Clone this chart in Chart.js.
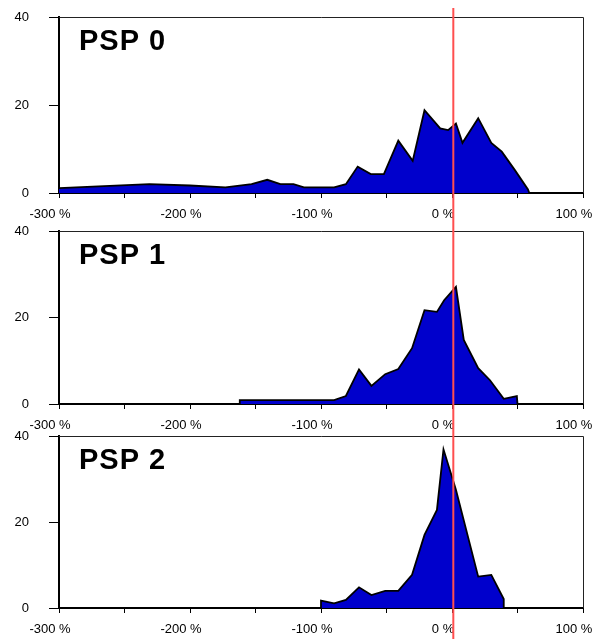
<!DOCTYPE html>
<html>
<head>
<meta charset="utf-8">
<script src="https://cdn.jsdelivr.net/npm/chart.js@4.4.0/dist/chart.umd.min.js"></script>
<style>
  html, body { margin: 0; padding: 0; background: #fff; }
  #wrap { position: relative; width: 599px; height: 639px; overflow: hidden; }
  #wrap canvas { position: absolute; left: 0; top: 0; }
</style>
</head>
<body>
<div id="wrap">
  <canvas id="psp0" width="599" height="639"></canvas>
  <canvas id="psp1" width="599" height="639"></canvas>
  <canvas id="psp2" width="599" height="639"></canvas>
</div>
<script>
// --- données (écart en %, effectif) ---
const psp0X = [-300, -270, -231, -200, -173, -153, -141, -131, -121, -113, -90, -81, -72, -62, -52, -41, -30, -21, -9, -3, 3, 8, 20, 30, 38, 48, 58, 59];
const psp0Y = [1.1, 1.5, 2.0, 1.7, 1.3, 2.0, 3.0, 2.0, 2.0, 1.3, 1.3, 2.0, 6.0, 4.3, 4.3, 11.9, 7.3, 18.8, 14.7, 14.3, 15.8, 11.4, 17.0, 11.4, 9.4, 5.2, 0.8, 0];

const psp1X = [-162, -162, -90, -81, -71, -61.5, -51, -41, -30.5, -21, -11.5, -6, 3, 9, 20, 29, 39.5, 49.5, 50];
const psp1Y = [0, 0.9, 0.9, 1.85, 8.0, 4.2, 6.9, 8.1, 12.9, 21.7, 21.3, 24.0, 27.1, 14.8, 8.3, 5.5, 1.2, 1.85, 0];

const psp2X = [-100, -100, -90, -81, -71, -61.5, -51, -41, -30.5, -21, -11.5, -6.5, 3, 20, 30, 39.5, 39.5];
const psp2Y = [0, 1.7, 1.1, 1.9, 4.8, 3.0, 4.0, 4.0, 7.7, 17.0, 22.8, 36.9, 27.5, 7.3, 7.7, 2.1, 0];

const panelNames = ['PSP 0', 'PSP 1', 'PSP 2'];
const xLabelValues = [-300, -200, -100, 0, 100];
const yTickValues = [0, 20, 40];
const refLine = 1; // ligne rouge verticale (%)

// --- mise en page ---
const W = 599, H = 639;
const PLOT_LEFT = 59, PLOT_RIGHT = 583;
const X_AXIS_H = 26;
const panelTops = [17, 231, 436];
const panelBottoms = [193, 404, 608];
const tickFont = { family: '"Liberation Sans", Arial, sans-serif', size: 13 };

// cadre haut/droite + nom du panneau
function boxPlugin(name) {
    return {
        id: 'box',
        afterDraw(chart) {
            const { ctx, chartArea: a } = chart;
            ctx.save();
            ctx.strokeStyle = '#222';
            ctx.lineWidth = 1;
            ctx.beginPath();
            ctx.moveTo(a.left, a.top + 0.5);
            ctx.lineTo(a.right + 0.5, a.top + 0.5);
            ctx.lineTo(a.right + 0.5, a.bottom);
            ctx.stroke();
            ctx.fillStyle = '#000';
            ctx.font = 'bold 29px "Liberation Sans", Arial, sans-serif';
            ctx.letterSpacing = '1px';
            ctx.textBaseline = 'alphabetic';
            ctx.fillText(name, a.left + 20, a.top + 33);
            ctx.restore();
        }
    };
}

// ligne rouge sur les trois panneaux (dessinée dans le canvas du dessus)
const refLinePlugin = {
    id: 'refLine',
    afterDraw(chart) {
        const { ctx } = chart;
        const x = chart.scales.x.getPixelForValue(refLine);
        ctx.save();
        ctx.strokeStyle = '#FF4F4F';
        ctx.lineWidth = 2;
        ctx.beginPath();
        ctx.moveTo(x, 8);
        ctx.lineTo(x, H);
        ctx.stroke();
        ctx.restore();
    }
};

function makePanel(id, name, xs, ys, top, bottom, withRefLine) {
    const points = xs.map((x, i) => ({ x: x, y: ys[i] }));
    const plugins = [boxPlugin(name)];
    if (withRefLine) plugins.push(refLinePlugin);
    return new Chart(document.getElementById(id), {
        type: 'line',
        data: {
            datasets: [{
                data: points,
                borderColor: '#000',
                borderWidth: 1.8,
                backgroundColor: '#0000CC',
                fill: 'origin',
                tension: 0,
                pointRadius: 0
            }]
        },
        options: {
            responsive: false,
            animation: false,
            layout: { padding: { top: top, bottom: H - bottom - X_AXIS_H, left: 0, right: W - PLOT_RIGHT } },
            plugins: { legend: { display: false }, tooltip: { enabled: false } },
            scales: {
                x: {
                    type: 'linear', min: -300, max: 100,
                    ticks: {
                        stepSize: 50, autoSkip: false, maxRotation: 0, padding: 9, labelOffset: -9,
                        color: '#000', font: tickFont,
                        callback: v => xLabelValues.includes(v) ? v + ' %' : ''
                    },
                    grid: { drawOnChartArea: false, tickLength: 5, color: '#000' },
                    border: { color: '#000', width: 2 },
                    afterFit: s => { s.height = X_AXIS_H; s.paddingLeft = 0; s.paddingRight = 0; }
                },
                y: {
                    min: 0, max: 40,
                    afterBuildTicks: s => { s.ticks = yTickValues.map(v => ({ value: v })); },
                    ticks: { padding: 20, color: '#000', font: tickFont },
                    grid: { drawOnChartArea: false, tickLength: 10, color: '#000' },
                    border: { color: '#000', width: 2 },
                    afterFit: s => { s.width = PLOT_LEFT; s.paddingTop = 0; s.paddingBottom = 0; }
                }
            }
        },
        plugins: plugins
    });
}

makePanel('psp0', panelNames[0], psp0X, psp0Y, panelTops[0], panelBottoms[0], false);
makePanel('psp1', panelNames[1], psp1X, psp1Y, panelTops[1], panelBottoms[1], false);
makePanel('psp2', panelNames[2], psp2X, psp2Y, panelTops[2], panelBottoms[2], true);
</script>
</body>
</html>
